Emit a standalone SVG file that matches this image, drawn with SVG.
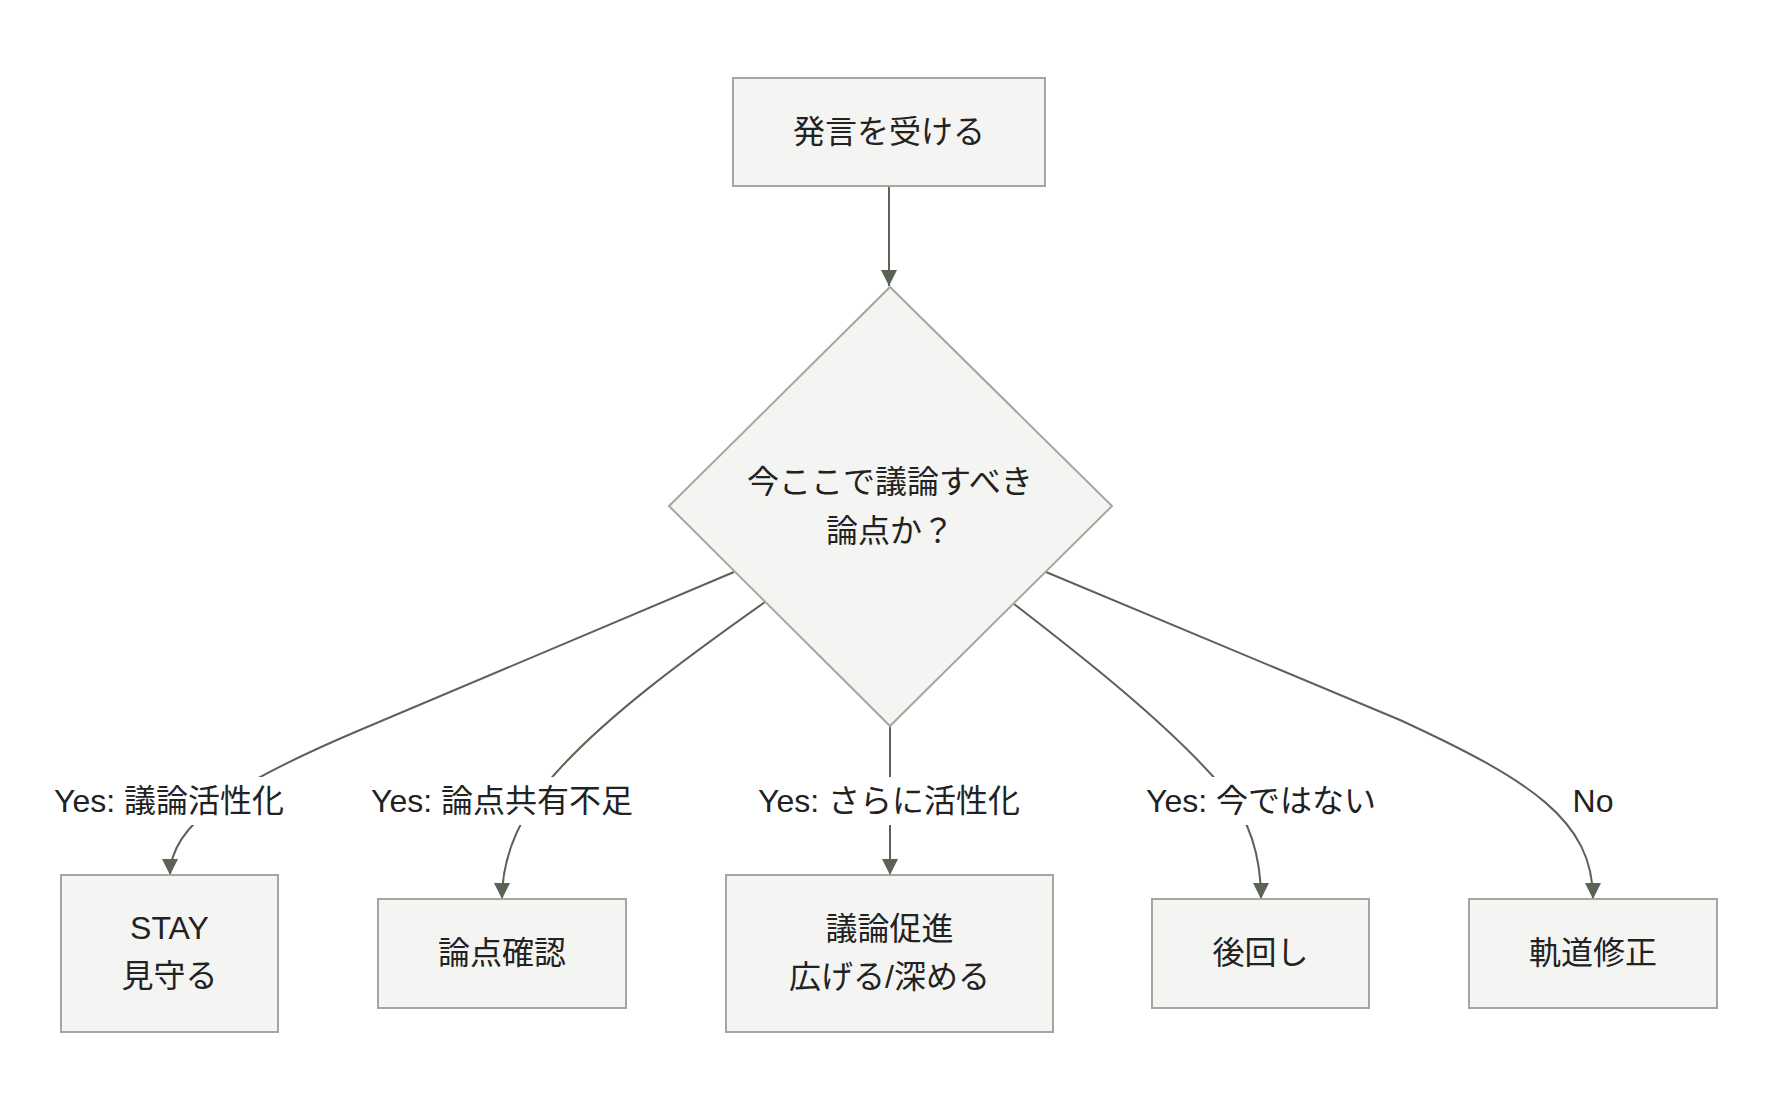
<svg xmlns="http://www.w3.org/2000/svg" width="1770" height="1114" viewBox="0 0 1770 1114">
<style>
.node{fill:#f4f4f2;stroke:#a2a8a0;stroke-width:2}
.t{font-family:"Liberation Sans","Noto Sans CJK JP",sans-serif;font-size:32px;fill:#222;text-anchor:middle;dominant-baseline:central}
.edge{fill:none;stroke:#5b6354;stroke-width:2;marker-end:url(#arrow)}
.lbg{fill:#ffffff}
</style>
<defs>
<marker id="arrow" viewBox="0 0 10 10" refX="10" refY="5" markerUnits="userSpaceOnUse" markerWidth="16" markerHeight="16" orient="auto">
<path d="M0,0 L10,5 L0,10 z" fill="#5b6354"/>
</marker>
</defs>
<rect width="1770" height="1114" fill="#ffffff"/>
<g id="connectors">
<path class="edge" d="M889,186 L889,286"/>
<path class="edge" d="M734,572 L360,730 C230,785 170,825 170,875"/>
<path class="edge" d="M765,602 C690,655 600,720 548,782 C525,812 502,850 502,899"/>
<path class="edge" d="M890,726 L890,875"/>
<path class="edge" d="M1014,604 C1080,655 1170,725 1225,790 C1245,814 1261,850 1261,899"/>
<path class="edge" d="M1046,572 L1400,720 C1530,780 1593,820 1593,899"/>
</g>
<g id="edge-labels">
<g id="label-yes1"><rect class="lbg" x="51" y="777" width="236" height="48"/><text class="t" x="169" y="801">Yes: 議論活性化</text></g>
<g id="label-yes2"><rect class="lbg" x="368" y="777" width="268" height="48"/><text class="t" x="502" y="801">Yes: 論点共有不足</text></g>
<g id="label-yes3"><rect class="lbg" x="755" y="777" width="270" height="48"/><text class="t" x="889" y="801">Yes: さらに活性化</text></g>
<g id="label-yes4"><rect class="lbg" x="1142" y="777" width="238" height="48"/><text class="t" x="1261" y="801">Yes: 今ではない</text></g>
<g id="label-no"><text class="t" x="1593" y="801">No</text></g>
</g>
<g id="n-start"><rect class="node" x="733" y="78" width="312" height="108"/><text class="t" x="889" y="132">発言を受ける</text></g>
<g id="n-decision"><polygon class="node" points="890,287 1112,506 890,726 669,506"/><text class="t" x="890" y="482">今ここで議論すべき</text><text class="t" x="890" y="531">論点か？</text></g>
<g id="n-stay"><rect class="node" x="61" y="875" width="217" height="157"/><text class="t" x="169.5" y="928">STAY</text><text class="t" x="169.5" y="976">見守る</text></g>
<g id="n-check"><rect class="node" x="378" y="899" width="248" height="109"/><text class="t" x="502" y="953">論点確認</text></g>
<g id="n-promote"><rect class="node" x="726" y="875" width="327" height="157"/><text class="t" x="889.5" y="929">議論促進</text><text class="t" x="889.5" y="977">広げる/深める</text></g>
<g id="n-later"><rect class="node" x="1152" y="899" width="217" height="109"/><text class="t" x="1260.5" y="953">後回し</text></g>
<g id="n-correct"><rect class="node" x="1469" y="899" width="248" height="109"/><text class="t" x="1593" y="953">軌道修正</text></g>
</svg>
